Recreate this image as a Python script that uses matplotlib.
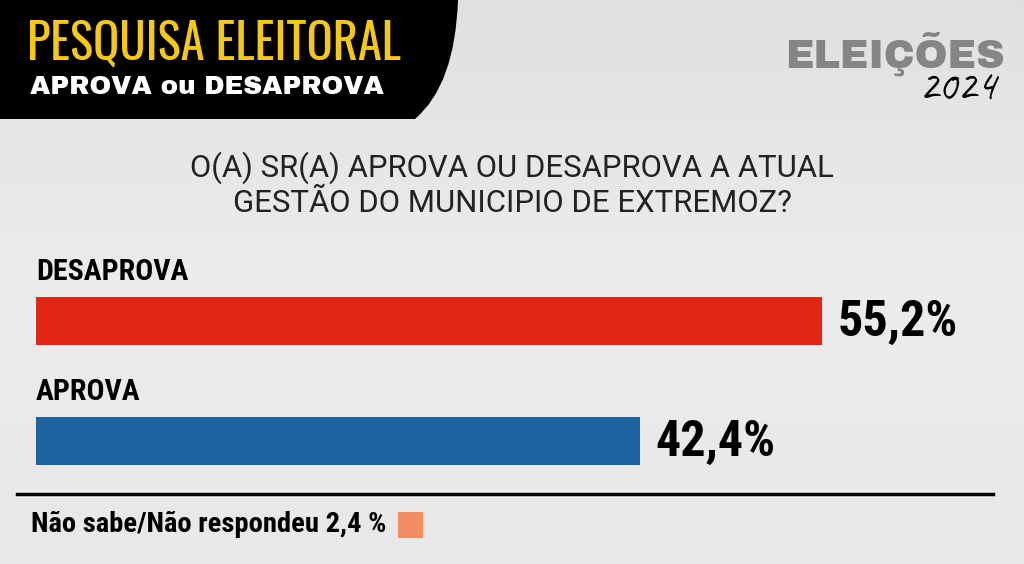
import numpy as np
import matplotlib
matplotlib.use("Agg")
import matplotlib.pyplot as plt
from matplotlib.path import Path
from matplotlib.patches import PathPatch, Rectangle
from matplotlib.colors import LinearSegmentedColormap

# data
categories = ["DESAPROVA", "APROVA"]
values = [55.2, 42.4]
value_labels = ["55,2%", "42,4%"]
bar_colors = ["#e32614", "#1e62a0"]
nao_sabe = "Não sabe/Não respondeu 2,4 %"
nao_sabe_color = "#f28c62"
title = "PESQUISA ELEITORAL"
subtitle = "APROVA ou DESAPROVA"
question = "O(A) SR(A) APROVA OU DESAPROVA A ATUAL\nGESTÃO DO MUNICIPIO DE EXTREMOZ?"

TITLE_F = ["Oswald", "DejaVu Sans"]
COND_F = ["Roboto Condensed", "DejaVu Sans"]
HEAVY_F = ["Archivo Black", "DejaVu Sans"]
LIGHT_F = ["Roboto", "DejaVu Sans"]
SCRIPT_F = ["Caveat", "DejaVu Sans"]
W, H = 1024, 564

fig = plt.figure(figsize=(W / 100, H / 100), dpi=100)

# background / decoration layer in pixel coords
bg = fig.add_axes([0, 0, 1, 1])
bg.set_xlim(0, W)
bg.set_ylim(H, 0)
bg.axis("off")
grad = np.linspace(0, 1, 200).reshape(-1, 1)
bg.imshow(grad, extent=[0, W, H, 0], aspect="auto", zorder=0,
          cmap=LinearSegmentedColormap.from_list("g", ["#e0e0e0", "#ececec", "#e8e8e8"]))

# header tab
verts = [(0, 0), (458, 0), (455, 85), (415, 119), (0, 119), (0, 0)]
codes = [Path.MOVETO, Path.LINETO, Path.CURVE3, Path.CURVE3, Path.LINETO, Path.CLOSEPOLY]
bg.add_patch(PathPatch(Path(verts, codes), facecolor="black", edgecolor="none", zorder=1))
bg.text(27, 44, title, color="#f4c813", fontsize=35, fontweight="bold",
        family=TITLE_F, va="center", ha="left", zorder=2)
bg.text(30, 87, subtitle, color="white", fontsize=18.8, family=HEAVY_F,
        va="center", ha="left", zorder=2)

# logo
bg.text(895, 54, "ELEIÇÕES", color="#858585", fontsize=28.5, family=HEAVY_F,
        va="center", ha="center", zorder=2)
bg.text(958, 90, "2024", color="black", fontsize=31, family=SCRIPT_F,
        va="center", ha="center", zorder=3)

# question
bg.text(512, 185, question, color="#222222", fontsize=22.4, family=LIGHT_F,
        va="center", ha="center", linespacing=1.22, zorder=2)

# divider and footer
bg.plot([17, 993], [494, 494], color="black", lw=2.5, zorder=2)
bg.text(31, 525, nao_sabe, color="black", fontsize=20.5, fontweight="heavy",
        family=COND_F, va="center", ha="left", zorder=2)
bg.add_patch(Rectangle((398, 512), 25, 26, facecolor=nao_sabe_color, edgecolor="none", zorder=2))

# bars
scale = 14.24  # px per percentage point
x0, xmax = 36, 60
ytop, ybot = 261, 501
ax = fig.add_axes([x0 / W, 1 - ybot / H, xmax * scale / W, (ybot - ytop) / H])
ax.set_xlim(0, xmax)
ax.set_ylim(1.5, -0.5)
ax.axis("off")
pos = np.arange(len(categories))
ax.barh(pos, values, height=0.4, color=bar_colors)
for p, c, v, lab in zip(pos, categories, values, value_labels):
    ax.text(0, p - 0.41, c, fontsize=21.5, fontweight="heavy", family=COND_F,
            va="center", ha="left")
    ax.text(v + 1.1, p + 0.01, lab, fontsize=36, fontweight="heavy", family=COND_F,
            va="center", ha="left")

fig.savefig("out.png", dpi=100)
